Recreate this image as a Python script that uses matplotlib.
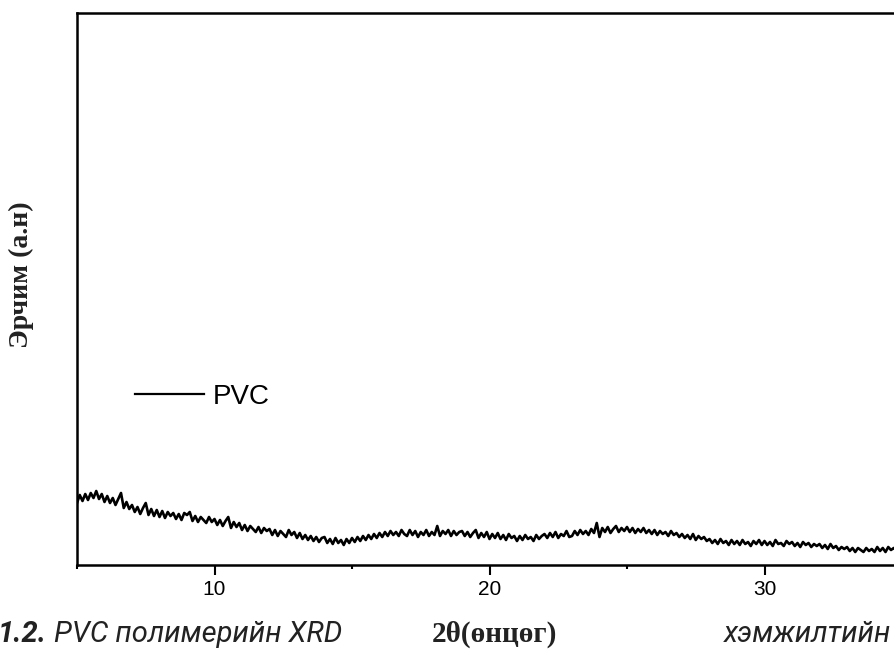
import numpy as np
import matplotlib
matplotlib.use('Agg')
import matplotlib.pyplot as plt
from matplotlib.ticker import MultipleLocator

# 2θ шатлал (0.1°) ба эрчим (а.н), зургаас уншсан утгууд
two_theta = np.round(np.arange(5.0, 35.01, 0.1), 1)
intensity = [
    62, 70, 64, 71, 65, 72, 67, 74, 66, 71,   # 5
    63, 69, 62, 67, 60, 66, 72, 57, 63, 56,   # 6
    60, 53, 58, 51, 57, 62, 50, 56, 49, 55,   # 7
    48, 54, 47, 53, 49, 52, 46, 51, 45, 52,   # 8
    50, 53, 44, 49, 43, 48, 45, 42, 48, 43,   # 9
    46, 40, 45, 39, 44, 48, 37, 43, 38, 42,   # 10
    35, 40, 34, 39, 36, 33, 38, 32, 37, 34,   # 11
    36, 30, 35, 29, 34, 31, 28, 35, 30, 33,   # 12
    27, 32, 26, 30, 25, 29, 24, 28, 23, 27,   # 13
    28, 22, 26, 21, 27, 22, 25, 20, 26, 22,   # 14
    27, 23, 28, 24, 29, 25, 30, 26, 31, 27,   # 15
    32, 28, 33, 29, 34, 30, 33, 29, 35, 31,   # 16
    29, 35, 30, 34, 28, 33, 30, 35, 29, 33,   # 17
    30, 39, 29, 34, 31, 35, 29, 34, 30, 33,   # 18
    34, 29, 33, 28, 32, 35, 27, 32, 28, 33,   # 19
    26, 31, 27, 32, 26, 30, 25, 31, 27, 29,   # 20
    24, 29, 25, 30, 26, 28, 24, 30, 26, 29,   # 21
    31, 27, 32, 28, 33, 27, 31, 29, 34, 28,   # 22
    29, 34, 30, 35, 31, 34, 30, 36, 32, 42,   # 23
    28, 37, 33, 38, 32, 36, 39, 33, 37, 34,   # 24
    38, 33, 37, 32, 36, 33, 37, 32, 35, 31,   # 25
    35, 30, 34, 31, 33, 29, 34, 30, 32, 28,   # 26
    31, 27, 30, 26, 31, 25, 29, 26, 28, 24,   # 27
    26, 22, 25, 21, 26, 22, 24, 20, 25, 21,   # 28
    24, 20, 25, 21, 23, 19, 24, 21, 25, 20,   # 29
    24, 20, 23, 19, 25, 21, 22, 19, 24, 21,   # 30
    23, 19, 22, 18, 23, 20, 22, 18, 21, 19,   # 31
    21, 17, 20, 16, 21, 17, 19, 15, 18, 16,   # 32
    18, 14, 17, 13, 17, 15, 13, 17, 14, 16,   # 33
    13, 18, 14, 17, 13, 18, 15, 17, 14, 18,   # 34
    16,                                       # 35
]
x_ticks = [10, 20, 30]
series_name = 'PVC'

W, H = 894, 656
fig = plt.figure(figsize=(W / 100, H / 100), dpi=100)

# тэнхлэг баруун ирмэгээс цааш гарна (эх зураг тасарсан)
x_min, x_max = 5, 40
px_per_deg = 27.5
ax_left, ax_bottom, ax_top = 77, 565, 13
ax_w = (x_max - x_min) * px_per_deg
ax = fig.add_axes([ax_left / W, 1 - ax_bottom / H, ax_w / W, (ax_bottom - ax_top) / H])

ax.plot(two_theta, intensity, color='black', linewidth=1.9, label=series_name)

ax.set_xlim(x_min, x_max)
ax.set_ylim(0, ax_bottom - ax_top)

for s in ax.spines.values():
    s.set_linewidth(1.8)

ax.set_xticks(x_ticks)
ax.xaxis.set_minor_locator(MultipleLocator(5))
ax.tick_params(axis='x', which='major', direction='out', length=7, width=1.5,
               pad=4, labelsize=15)
ax.tick_params(axis='x', which='minor', direction='out', length=3, width=1.5)
ax.tick_params(axis='y', left=False, labelleft=False)
for lab in ax.get_xticklabels():
    lab.set_fontfamily('Liberation Sans')

ax.set_ylabel('Эрчим (а.н)', fontsize=20, fontweight='bold',
              family=['Liberation Serif', 'DejaVu Serif'], color='#222222')
ax.yaxis.set_label_coords((34 - ax_left) / ax_w, (ax_bottom - 275) / (ax_bottom - ax_top))

leg = ax.legend(loc='center left', bbox_to_anchor=(135 / W, 1 - 397 / H),
                bbox_transform=fig.transFigure, frameon=False, borderpad=0,
                borderaxespad=0, handlelength=2.5, handletextpad=0.3,
                prop={'family': 'Liberation Sans', 'size': 20})
for line in leg.get_lines():
    line.set_linewidth(1.6)

# доод тайлбар мөр (эх зурагт хоёр захаараа тасарсан)
cap_y = 1 - 642 / H
fig.text(494 / W, cap_y, '2θ(өнцөг)', ha='center', va='baseline',
         fontsize=21, fontweight='bold', family=['Liberation Serif', 'DejaVu Serif'],
         color='#222222')
t1 = fig.text(342 / W, cap_y, 'PVC полимерийн XRD', ha='right', va='baseline',
              fontsize=21, style='italic', family=['Roboto', 'DejaVu Sans'],
              color='#222222')
fig.canvas.draw()
bb = t1.get_window_extent()
fig.text((bb.x0 - 7) / W, cap_y, '1.2.', ha='right', va='baseline',
         fontsize=21, style='italic', fontweight='bold',
         family=['Roboto', 'DejaVu Sans'], color='#222222')
fig.text(724 / W, cap_y, 'хэмжилтийн', ha='left', va='baseline',
         fontsize=21, style='italic', family=['Roboto', 'DejaVu Sans'],
         color='#222222')

fig.savefig('out.png', dpi=100)
